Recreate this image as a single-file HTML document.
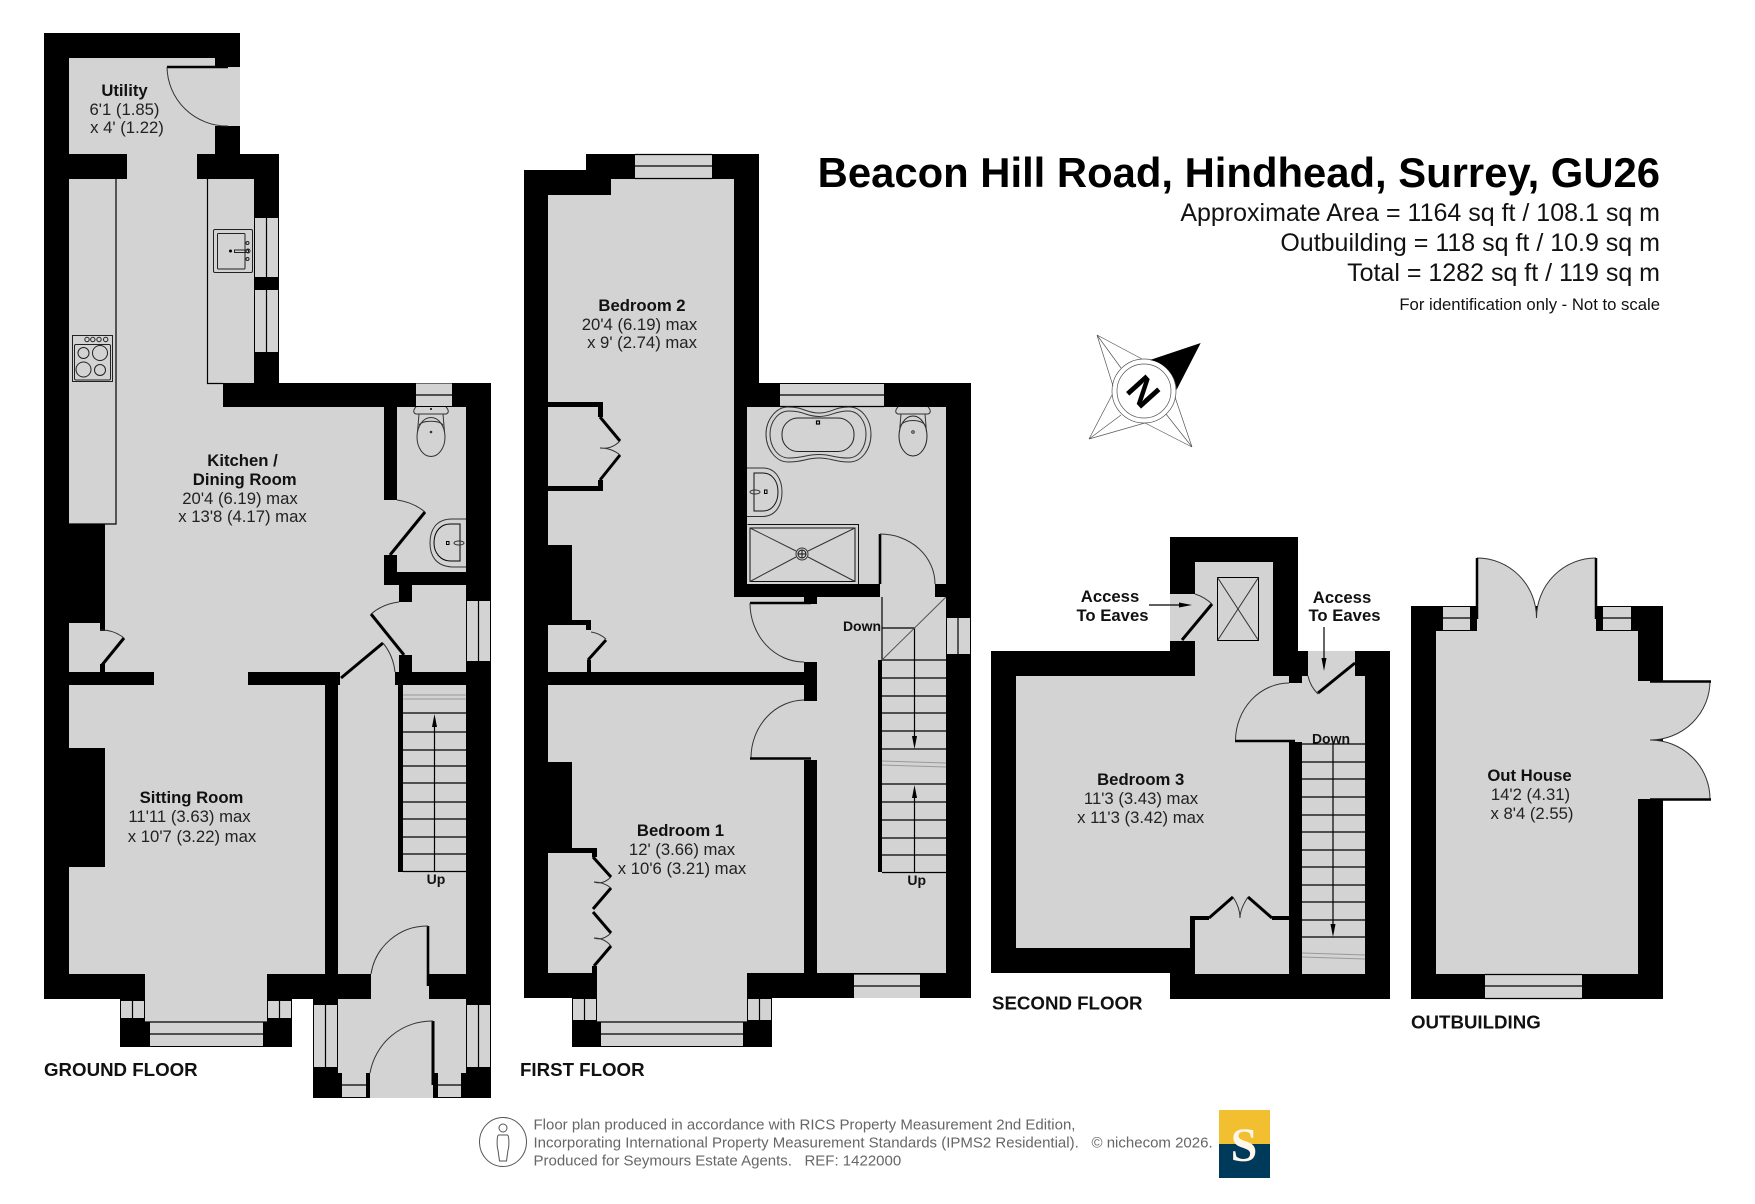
<!DOCTYPE html>
<html><head><meta charset="utf-8"><title>Floor plan</title>
<style>
html,body{margin:0;padding:0;background:#fff}
svg{display:block}
text{font-family:"Liberation Sans",sans-serif;fill:#111}
.b{font-weight:bold;font-size:16.7px;text-anchor:middle}
.r{font-size:16.7px;text-anchor:middle;fill:#222}
.s{font-weight:bold;font-size:14px;text-anchor:middle}
.f{font-weight:bold;font-size:18.7px}
.h{font-size:25px;text-anchor:end}
.g{font-size:15px;fill:#666}
.w{fill:#000}
.fl{fill:#d3d3d3}
.l{stroke:#000;stroke-width:1.2;fill:none}
.t{stroke:#222;stroke-width:1;fill:none}
.d{stroke:#000;stroke-width:3;fill:none}
.a{stroke:#333;stroke-width:1;fill:none}
.p{stroke:#999;stroke-width:1;fill:none}
</style></head><body>
<svg width="1755" height="1204" viewBox="0 0 1755 1204" xmlns="http://www.w3.org/2000/svg">
<rect width="1755" height="1204" fill="#fff"/>

<!-- GROUND FLOOR -->
<polygon class="w" points="44,33 240,33 240,154 279,154 279,383 491,383 491,1098 313,1098 313,999 292,999 292,1047 120,1047 120,999 44,999"/>
<g class="fl">
<rect x="69" y="58" width="146" height="96"/>
<rect x="215" y="67" width="25" height="59"/>
<rect x="127" y="154" width="70" height="25"/>
<rect x="69" y="179" width="185" height="204"/>
<rect x="69" y="383" width="154" height="24"/>
<rect x="69" y="407" width="315" height="117"/>
<rect x="105" y="524" width="279" height="61"/>
<rect x="105" y="585" width="294" height="87"/>
<rect x="399" y="602" width="13" height="53"/>
<rect x="412" y="585" width="54" height="87"/>
<rect x="69" y="623" width="31" height="49"/>
<rect x="100" y="631" width="5" height="33"/>
<rect x="154" y="672" width="94" height="13"/>
<rect x="340" y="672" width="55" height="13"/>
<rect x="69" y="685" width="256" height="63"/>
<rect x="105" y="748" width="220" height="119"/>
<rect x="69" y="867" width="256" height="107"/>
<rect x="145" y="974" width="122" height="48"/>
<rect x="338" y="685" width="60" height="187"/>
<rect x="403" y="685" width="63" height="187"/>
<rect x="338" y="872" width="128" height="102"/>
<rect x="371" y="974" width="58" height="25"/>
<rect x="338" y="999" width="128" height="74"/>
<rect x="370" y="1073" width="63" height="25"/>
<rect x="397" y="407" width="69" height="165"/>
<rect x="384" y="500" width="13" height="55"/>
<!-- windows -->
<rect x="255" y="218" width="23" height="59"/>
<rect x="255" y="290" width="23" height="62"/>
<rect x="416" y="383.5" width="36" height="22.5"/>
<rect x="467" y="601" width="23" height="60"/>
<rect x="314" y="1005" width="23" height="62"/>
<rect x="467" y="1005" width="23" height="62"/>
<rect x="342" y="1073" width="24" height="24"/>
<rect x="438" y="1073" width="23" height="24"/>
<rect x="121" y="1001" width="23" height="17"/>
<rect x="268" y="1001" width="23" height="17"/>
<rect x="150" y="1022" width="113" height="24"/>
</g>
<g class="l">
<path d="M266.5 218V277M266.5 290V352M416 395H452M478.5 601V661M325.5 1005V1067M478.5 1005V1067M342 1085H366M438 1085H461M132.5 1001V1018M279.5 1001V1018M150 1034H263M145 1022H267"/>
<path d="M116 179V524H69M207.5 179V383.5H223"/>
</g>
<!-- sink -->
<g class="t">
<rect x="213.5" y="229.5" width="39" height="43" rx="1.5"/>
<rect x="217.5" y="233.5" width="27.5" height="35.5" rx="1"/>
<rect x="234.5" y="250" width="14" height="2.5"/>
<circle cx="248" cy="251" r="2"/><circle cx="247.5" cy="243" r="1.5"/><circle cx="247.5" cy="259" r="1.5"/>
</g>
<circle cx="230.5" cy="251" r="1.5" fill="#000"/>
<!-- hob -->
<g class="t">
<rect x="72.5" y="335.5" width="40" height="46"/>
<rect x="74.5" y="344.5" width="36" height="35.5" rx="1.5"/>
<circle cx="87" cy="339.5" r="2.2"/><circle cx="92.8" cy="339.5" r="2.2"/><circle cx="99" cy="339.5" r="2.2"/><circle cx="105.7" cy="339.5" r="2.2"/>
<circle cx="83.5" cy="353" r="5.5"/><circle cx="100" cy="353" r="7.5"/><circle cx="83.5" cy="369.5" r="7.5"/><circle cx="100" cy="370" r="5.5"/>
</g>
<!-- interior ground walls -->
<rect class="w" x="100" y="664" width="5" height="8"/>
<!-- WC -->
<g class="a">
<path d="M416 407C413 410 413 413 416 414H446C449 413 449 410 446 407"/>
<ellipse cx="431" cy="437" rx="14" ry="19.5"/>
<path d="M419 414L417.5 432M443 414L444.5 432M419 425C423 420 439 420 443 425"/>
<path d="M466 519H452C436 519 430 530 430 543C430 556 436 566 452 567H466"/>
<path d="M434 543C434 531 441 524 450 524H460V561H450C441 561 434 553 434 543Z" stroke="#000"/>
<rect x="446.5" y="541.5" width="2.5" height="3" stroke="#000"/>
<ellipse cx="459" cy="543" rx="5" ry="2"/>
</g>
<circle cx="431" cy="409" r="1" fill="#000"/><circle cx="431" cy="432" r="1.3" fill="#333"/>
<!-- doors ground -->
<path d="M167 67H228" stroke="#000" stroke-width="2.5" fill="none"/>
<path class="a" d="M167 67A60 60 0 0 0 228 126"/>
<path class="d" d="M390 555L425 512"/><path class="a" d="M397 500A55 55 0 0 1 425 512"/>
<path class="d" d="M404 655L371 614"/><path class="a" d="M399 602A53 53 0 0 0 371 614"/>
<path class="d" d="M341 678L383 643"/><path class="a" d="M383 643A55 55 0 0 1 395 672"/>
<path class="d" d="M102 665L124 638"/><path class="a" d="M100 630A36 36 0 0 1 124 638"/>
<path d="M428 926V986" stroke="#000" stroke-width="2.6" fill="none"/><path class="a" d="M428 926A57 57 0 0 0 371 974"/>
<path d="M433 1021V1085" stroke="#000" stroke-width="3" fill="none"/><path class="a" d="M433 1021A63 63 0 0 0 370 1073"/>
<!-- stairs ground -->
<g class="l">
<path d="M403 713H466M403 732H466M403 750H466M403 766H466M403 783H466M403 802H466M403 819H466M403 837H466M403 854H466M403 871.5H466M434.5 871V725"/>
</g>
<path class="p" d="M403 695H466M403 699H466" stroke-width="1"/>
<polygon points="434.5,714 432,727 437,727" fill="#000"/>
<text class="s" x="436" y="884">Up</text>
<text class="b" x="124.500" y="96">Utility</text>
<text class="r" x="124.500" y="115">6'1 (1.85)</text>
<text class="r" x="127" y="133">x 4' (1.22)</text>
<text class="b" x="242.5" y="466">Kitchen /</text>
<text class="b" x="244.7" y="485">Dining Room</text>
<text class="r" x="240" y="504">20'4 (6.19) max</text>
<text class="r" x="242.500" y="522">x 13'8 (4.17) max</text>
<text class="b" x="191.5" y="803">Sitting Room</text>
<text class="r" x="189.5" y="822">11'11 (3.63) max</text>
<text class="r" x="192" y="842">x 10'7 (3.22) max</text>
<text class="f" x="44" y="1076">GROUND FLOOR</text>

<!-- FIRST FLOOR -->
<polygon class="w" points="524,170 586,170 586,154 759,154 759,383 971,383 971,998 772,998 772,1047 572,1047 572,998 524,998"/>
<g class="fl">
<rect x="548" y="195" width="186" height="350"/>
<rect x="611" y="179" width="123" height="16"/>
<rect x="572" y="545" width="162" height="127"/>
<rect x="734" y="597" width="70" height="75"/>
<rect x="548" y="625" width="38" height="47"/>
<rect x="586" y="630" width="5" height="30"/>
<rect x="817" y="597" width="129" height="376"/>
<rect x="804" y="604" width="13" height="58"/>
<rect x="804" y="701" width="13" height="59"/>
<rect x="548" y="685" width="256" height="77"/>
<rect x="572" y="762" width="232" height="211"/>
<rect x="548" y="853" width="44" height="120"/>
<rect x="597" y="973" width="150" height="49"/>
<rect x="747" y="407" width="199" height="177"/>
<rect x="880" y="584" width="55" height="13"/>
<rect x="635" y="155" width="77" height="23"/>
<rect x="780" y="384" width="104" height="22"/>
<rect x="947" y="618" width="23" height="36"/>
<rect x="854" y="974" width="66" height="24"/>
<rect x="573" y="999" width="23" height="21"/>
<rect x="748" y="999" width="23" height="21"/>
<rect x="601" y="1022" width="142" height="24"/>
</g>
<g class="w">
<rect x="548" y="402" width="55" height="5"/><rect x="598" y="407" width="5" height="10"/>
<rect x="598" y="480" width="5" height="7"/><rect x="548" y="486" width="55" height="5"/>
<rect x="548" y="620" width="43" height="5"/><rect x="586" y="625" width="5" height="5"/>
<rect x="587" y="660" width="4" height="12"/>
<rect x="548" y="848" width="49" height="5"/><rect x="592" y="853" width="5" height="4"/>
<rect x="592" y="966" width="5" height="8"/>
<rect x="548" y="672" width="269" height="13"/>
<rect x="804" y="662" width="13" height="39"/>
<rect x="878" y="660" width="4" height="212"/>
</g>
<g class="l">
<path d="M635 166H712M635 178.5H712M635 154.5H712M780 395H884M780 406.5H884M958 618V654M854 986H920M854 974H920M584.5 999V1020M759.5 999V1020M601 1034H743M597 1022H747"/>
<path d="M882 660H946M882 678H946M882 696H946M882 713H946M882 731H946M882 749H946M882 784H946M882 802H946M882 820H946M882 838H946M882 855H946M882 872.5H946M882 628H914.5M914.5 628V738M914.5 872V796"/>
<path d="M882 597V660"/>
</g>
<path d="M882 660L946 597" stroke="#555" stroke-width="1" fill="none"/>
<path class="p" d="M882 761L946 763M882 765L946 767"/>
<polygon points="914.5,749 912,736 917,736" fill="#000"/>
<polygon points="914.5,785 912,798 917,798" fill="#000"/>
<text class="s" x="862" y="631">Down</text>
<text class="s" x="916.7" y="885">Up</text>
<!-- first doors -->
<path class="d" d="M600 417L620 441M620 455L600 480"/><path class="a" d="M600 448C608 449 614 447 620 441M600 448C608 448 614 450 620 455"/>
<path class="d" d="M588 660L606 640"/><path class="a" d="M591 632A30 30 0 0 1 606 639"/>
<path class="d" d="M593 857L611 877M611 888L593 909M593 912L611 933M611 946L594 966"/>
<path class="a" d="M594 882C600 884 606 882 611 877M594 882C600 882 606 884 611 888M594 938C600 940 606 938 611 933M594 938C600 938 606 940 611 946"/>
<path d="M750 603H811" stroke="#000" stroke-width="2.5" fill="none"/><rect class="w" x="804" y="597" width="13" height="7"/>
<path class="a" d="M750 603A54 59 0 0 0 804 662"/>
<path class="a" d="M804 700A54 58 0 0 0 751 758"/><path d="M750 758.5H811" stroke="#000" stroke-width="2.5" fill="none"/>
<path d="M880 534V584" stroke="#000" stroke-width="2.6" fill="none"/>
<path class="a" d="M880 534A55 50 0 0 1 935 584"/>
<!-- bathroom -->
<g class="a">
<path d="M788 407C804 407 806 413 819 413C832 413 834 407 849 407C862 407 871 420 871 434C871 449 862 462 849 462C834 462 832 458 819 458C806 458 804 462 788 462C776 462 766 449 766 434C766 420 776 407 788 407Z"/>
<path d="M789 411C804 411 806 416.500 819 416.500C832 416.500 834 411 848 411C859 411 866 422 866 434C866 447 859 458 848 458C834 458 832 454.500 819 454.500C806 454.500 804 458 789 458C778 458 770 447 770 434C770 422 778 411 789 411Z"/>
<rect x="782" y="418" width="72" height="33.5" rx="16" stroke="#222"/>
<rect x="816.5" y="421" width="3" height="3" stroke="#000" stroke-width="1.2"/>
<path d="M898 407C895 410 895 413 898 414H928C931 413 931 410 928 407"/>
<ellipse cx="913" cy="436" rx="14" ry="20" stroke="#222"/>
<path d="M901 414L899.5 432M925 414L926.5 432M901 425C905 419 921 419 925 425"/>
<circle cx="913" cy="432" r="1.3"/>
<path d="M747 468H763C776 468 782 480 782 492C782 505 776 516 763 516.5H747"/>
<path d="M778 492C778 481 772 473 763 473H754V511H763C772 511 778 503 778 492Z" stroke="#111"/>
<rect x="764.5" y="490" width="2.5" height="3.5" stroke="#000"/>
<ellipse cx="755" cy="492" rx="5" ry="2"/>
<path d="M747.5 524.5H858.5V584" stroke="#111"/>
<rect x="750" y="528" width="105" height="53.5" stroke="#111"/>
<path d="M750 528L796 551M855 528L808 551M750 581.5L796 557M855 581.5L808 557"/>
<circle cx="802" cy="554" r="6"/><circle cx="802" cy="554" r="4" stroke="#111"/>
<path d="M798 554H806M802 550V558" stroke="#111"/>
</g>
<text class="b" x="642" y="311">Bedroom 2</text>
<text class="r" x="639.5" y="330">20'4 (6.19) max</text>
<text class="r" x="642" y="348">x 9' (2.74) max</text>
<text class="b" x="680.5" y="836">Bedroom 1</text>
<text class="r" x="682" y="855">12' (3.66) max</text>
<text class="r" x="682" y="874">x 10'6 (3.21) max</text>
<text class="f" x="520" y="1076">FIRST FLOOR</text>

<!-- SECOND FLOOR -->
<polygon class="w" points="991,651 1170,651 1170,537 1298,537 1298,651 1390,651 1390,999 1170,999 1170,973 991,973"/>
<g class="fl">
<rect x="1195" y="562" width="78" height="114"/>
<rect x="1170" y="594" width="25" height="47"/>
<rect x="1016" y="676" width="273" height="240"/>
<rect x="1016" y="916" width="174" height="32"/>
<rect x="1195" y="916" width="94" height="58"/>
<rect x="1289" y="683" width="13" height="59"/>
<rect x="1302" y="676" width="63" height="298"/>
<rect x="1308" y="651" width="47" height="25"/>
</g>
<g class="w">
<rect x="1190" y="916" width="19" height="4"/>
<rect x="1272" y="916" width="17" height="4"/>
<rect x="1289" y="676" width="13" height="7"/>
</g>
<g class="t">
<rect x="1217.5" y="577.5" width="41" height="63" stroke="#000"/>
<path d="M1217.5 577.5L1258.5 640.5M1258.5 577.5L1217.5 640.5" stroke="#333"/>
</g>
<g class="l">
<path d="M1302 744H1365M1302 762H1365M1302 779H1365M1302 797H1365M1302 815H1365M1302 832H1365M1302 850H1365M1302 867H1365M1302 885H1365M1302 902H1365M1302 920H1365M1302 937H1365M1333 744V925"/>
<path d="M1149 605H1182M1324 627V660"/>
</g>
<path class="p" d="M1302 953L1365 955M1302 957L1365 959"/>
<polygon points="1333,937 1330.500,924 1335.500,924" fill="#000"/>
<polygon points="1192,605 1179,602.500 1179,607.500" fill="#000"/>
<polygon points="1324,671 1321.500,658 1326.500,658" fill="#000"/>
<path class="d" d="M1182 640L1212 604"/><path class="a" d="M1195 594A45 45 0 0 1 1212 604"/>
<path class="d" d="M1318 693L1355 663"/><path class="a" d="M1308 676A36 36 0 0 0 1318 694"/>
<path class="a" d="M1289 683A54 58 0 0 0 1235.500 740"/>
<path d="M1235 741H1295" stroke="#000" stroke-width="2.6" fill="none"/>
<path class="d" d="M1209 918L1233 897M1248 897L1272 918"/>
<path class="a" d="M1240 918C1240 910 1237 903 1233 897M1240 918C1240 910 1244 903 1248 897"/>
<text class="b" x="1110" y="602">Access</text>
<text class="b" x="1112.500" y="621">To Eaves</text>
<text class="b" x="1342" y="603">Access</text>
<text class="b" x="1344.500" y="621">To Eaves</text>
<text class="s" x="1331" y="743.500">Down</text>
<text class="b" x="1140.700" y="785">Bedroom 3</text>
<text class="r" x="1141" y="804">11'3 (3.43) max</text>
<text class="r" x="1140.700" y="823">x 11'3 (3.42) max</text>
<text class="f" x="992" y="1009.500">SECOND FLOOR</text>

<!-- OUTBUILDING -->
<rect class="w" x="1411" y="606" width="252" height="393"/>
<rect class="fl" x="1436" y="631" width="202" height="343"/>
<path class="fl" d="M1477 558A59.500 60 0 0 1 1536.500 618A59.500 60 0 0 1 1596 558V631H1477Z"/>
<path class="a" d="M1477 558A59.500 60 0 0 1 1536.500 618M1536.500 618A59.500 60 0 0 1 1596 558"/>
<path d="M1477 558V619M1596 558V619" stroke="#000" stroke-width="2.500" fill="none"/>
<path class="fl" d="M1710 681A60 59 0 0 1 1650 740A60 59 0 0 1 1710 799H1638V681Z"/>
<path class="a" d="M1710 681A60 59 0 0 1 1650 740A60 59 0 0 1 1710 799"/>
<path d="M1650 681.500H1711M1650 799.500H1711" stroke="#000" stroke-width="2.500" fill="none"/>
<g class="fl">
<rect x="1443" y="607" width="27" height="23"/>
<rect x="1603" y="607" width="28" height="23"/>
<rect x="1485" y="975" width="97" height="23"/>
</g>
<path class="l" d="M1443 618H1470M1603 618H1631M1485 986H1582M1485 974.500H1582M1485 998.500H1582"/>
<text class="b" x="1529.500" y="781">Out House</text>
<text class="r" x="1530.500" y="800">14'2 (4.31)</text>
<text class="r" x="1532" y="819">x 8'4 (2.55)</text>
<text class="f" x="1411" y="1028.500">OUTBUILDING</text>

<!-- HEADER -->
<text x="1660" y="187" font-size="41.800" font-weight="bold" text-anchor="end" style="fill:#000">Beacon Hill Road, Hindhead, Surrey, GU26</text>
<text class="h" x="1660" y="221">Approximate Area = 1164 sq ft / 108.1 sq m</text>
<text class="h" x="1660" y="251">Outbuilding = 118 sq ft / 10.9 sq m</text>
<text class="h" x="1660" y="281">Total = 1282 sq ft / 119 sq m</text>
<text x="1660" y="310" font-size="16.700" text-anchor="end">For identification only - Not to scale</text>

<!-- COMPASS -->
<g fill="none" stroke="#555" stroke-width="0.7">
<path d="M1097 335L1142 359M1097 335L1113 386M1097 335L1121 368"/>
<path d="M1089 439L1112 395M1089 439L1145 423M1089 439L1121 415"/>
<path d="M1192 447L1145 423M1192 447L1175 397M1192 447L1166 414"/>
<circle cx="1144" cy="391" r="32"/><circle cx="1144" cy="391" r="27"/>
</g>
<path d="M1200.700 343L1150 360A32 32 0 0 1 1176.500 390Z" fill="#000"/>
<text x="1144" y="405" font-size="38" font-weight="bold" text-anchor="middle" transform="rotate(48 1144 391)" style="fill:#000">N</text>

<!-- FOOTER -->
<ellipse cx="503" cy="1142" rx="23.500" ry="24.500" fill="none" stroke="#555" stroke-width="1"/>
<circle cx="503" cy="1128" r="4" fill="none" stroke="#555"/>
<path d="M498.500 1135C496.500 1136 497 1148 498 1150L499.500 1161H506.500L508 1150C509 1148 509.500 1136 507.500 1135Z" fill="none" stroke="#555"/>
<text class="g" x="533.500" y="1129.500">Floor plan produced in accordance with RICS Property Measurement 2nd Edition,</text>
<text class="g" x="533.500" y="1147.500">Incorporating International Property Measurement Standards (IPMS2 Residential).</text>
<text class="g" x="533.500" y="1165.500" xml:space="preserve" style="white-space:pre">Produced for Seymours Estate Agents.   REF: 1422000</text>
<text class="g" x="1091.500" y="1147.500">© nichecom 2026.</text>
<rect x="1219" y="1110" width="51" height="34" fill="#f2bf31"/>
<rect x="1219" y="1144" width="51" height="34" fill="#003a5a"/>
<text x="1244" y="1161" font-size="48" font-weight="bold" text-anchor="middle" style="font-family:'Liberation Serif',serif;fill:#fff8ea">S</text>
</svg>
</body></html>
